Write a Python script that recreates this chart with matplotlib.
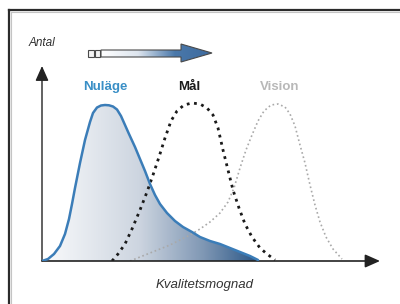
import numpy as np
import matplotlib.pyplot as plt
from matplotlib.colors import LinearSegmentedColormap
from matplotlib.patches import Polygon, Rectangle
from matplotlib.lines import Line2D

plt.rcParams['font.family'] = ['Liberation Sans', 'DejaVu Sans']

# curves (x = kvalitetsmognad, y = antal, arbitrary units)
nulage_x = [0, 6, 12, 18, 23, 27, 30, 33, 38, 43, 48, 51, 55, 59, 63, 67, 71, 75,
            79, 83, 87, 93, 98, 103, 108, 113, 118, 125, 133, 141, 150, 158, 168,
            178, 188, 198, 208, 216]
nulage_y = [0, 2, 7, 15, 27, 42, 57, 73, 98, 121, 139, 148, 153.5, 155.5, 156,
            155.7, 154.5, 151.5, 145, 136, 127, 114, 102, 90, 77, 66, 57, 48, 40,
            34, 29, 24, 20, 17, 13, 9, 5, 1]

mal_x = [70, 76, 83, 90, 98, 105, 111, 117, 123, 129, 135, 142, 150, 158, 165,
         171, 176, 181, 186, 191, 197, 203, 210, 218, 225, 233]
mal_y = [0, 7, 17, 32, 51, 69, 86, 104, 123, 140, 150, 156, 158, 157, 153, 146,
         133, 111, 91, 71, 53, 37, 24, 13, 7, 1]

vision_x = [88, 98, 108, 118, 128, 138, 148, 158, 168, 178, 186, 192, 198, 204,
            210, 216, 222, 229, 236, 243, 248, 253, 258, 263, 268, 273, 278, 284,
            291, 300]
vision_y = [0, 4, 8, 12, 16, 21, 26, 32, 39, 48, 59, 73, 93, 111, 126, 140, 150,
            156, 157, 154, 147, 135, 116, 98, 76, 56, 39, 24, 12, 2]

labels = ['Nuläge', 'Mål', 'Vision']
label_x = [63.5, 147, 238]
label_colors = ['#3a8fc6', '#1a1a1a', '#b8b8b8']

W, H = 400, 304
fig = plt.figure(figsize=(4, 3.04), dpi=100)

# overlay in pixel coordinates for the decorations
deco = fig.add_axes([0, 0, 1, 1])
deco.set_xlim(0, W)
deco.set_ylim(H, 0)
deco.axis('off')

# frame
deco.add_line(Line2D([11, W], [12, 12], color='#c4c4c4', lw=0.8))
deco.add_line(Line2D([11, 11], [12, H], color='#c4c4c4', lw=0.8))
deco.add_line(Line2D([9, W], [10, 10], color='#2b2b2b', lw=1.6))
deco.add_line(Line2D([9, 9], [10, H], color='#2b2b2b', lw=1.6))

# top arrow with gradient
grad = np.linspace(0, 1, 256).reshape(1, -1)
arrow_cmap = LinearSegmentedColormap.from_list('arr', ['#ffffff', '#dde5ee', '#4a78aa', '#3d6a9e'])
shaft = Polygon([[101, 50], [181, 50], [181, 44], [212, 53], [181, 62], [181, 57], [101, 57]],
                closed=True, facecolor='none', edgecolor='#4a4a4a', lw=0.8, zorder=3)
deco.add_patch(shaft)
img = deco.imshow(grad, extent=(101, 212, 62, 44), cmap=arrow_cmap, aspect='auto', zorder=2)
img.set_clip_path(shaft)
for sx in [88, 94.5]:
    deco.add_patch(Rectangle((sx, 50), 5.5, 7, facecolor='#f4f4f4', edgecolor='#4a4a4a', lw=0.8))

# main chart axes
x0, y0 = 42, 261
xmax, ymax = 338, 195
ax = fig.add_axes([x0 / W, (H - y0) / H, xmax / W, ymax / H])
ax.set_xlim(0, xmax)
ax.set_ylim(0, ymax)
ax.axis('off')

# gradient fill under Nuläge
fill_cmap = LinearSegmentedColormap.from_list(
    'fill', [(0, '#fafbfc'), (0.45, '#cdd5e0'), (0.75, '#7f97b4'), (1, '#2a5686')])
poly = ax.fill_between(nulage_x, nulage_y, 0, color='none')
path = poly.get_paths()[0]
fimg = ax.imshow(grad, extent=(0, max(nulage_x), 0, max(nulage_y)), cmap=fill_cmap,
                 aspect='auto', zorder=1)
fimg.set_clip_path(path, transform=ax.transData)

ax.plot(vision_x, vision_y, color='#a9a9a9', lw=1.2, ls=':', zorder=2)
ax.plot(mal_x, mal_y, color='#1a1a1a', lw=2.0, ls=':', zorder=3)
ax.plot(nulage_x, nulage_y, color='#3b7db8', lw=1.8, zorder=4,
        solid_capstyle='round', solid_joinstyle='round')

# axes with arrow heads
ax.annotate('', xy=(xmax, 0), xytext=(0, 0), annotation_clip=False,
            arrowprops=dict(arrowstyle='-|>,head_length=0.9,head_width=0.4', color='#222222',
                            lw=1.2, shrinkA=0, shrinkB=0))
ax.annotate('', xy=(0, ymax), xytext=(0, 0), annotation_clip=False,
            arrowprops=dict(arrowstyle='-|>,head_length=0.9,head_width=0.4', color='#222222',
                            lw=1.0, shrinkA=0, shrinkB=0))

for lab, lx, lc in zip(labels, label_x, label_colors):
    ax.text(lx, 174, lab, color=lc, fontsize=9.5, fontweight='bold', ha='center', va='center')

deco.text(42, 43.5, 'Antal', fontsize=8.5, style='italic', ha='center', va='center', color='#333333')
deco.text(205, 285, 'Kvalitetsmognad', fontsize=9.5, style='italic', ha='center', va='center',
          color='#333333')

fig.savefig('out.png', dpi=100)
